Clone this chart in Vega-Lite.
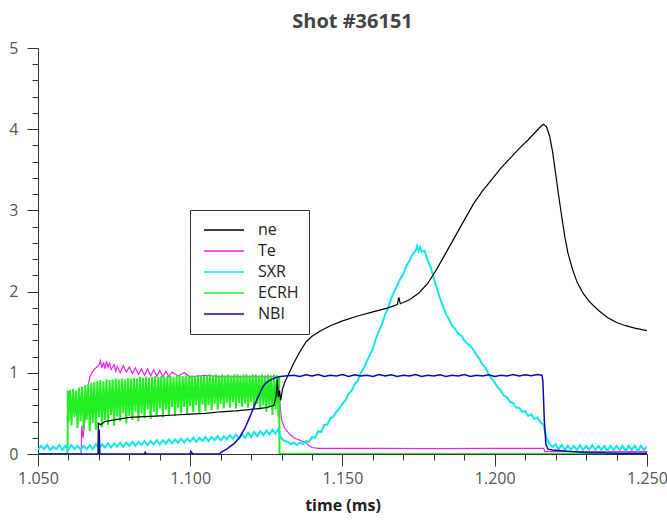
{
"$schema": "https://vega.github.io/schema/vega-lite/v6.json",
"width": 609, "height": 406,
"autosize": {"type": "none"},
"padding": {"left": 38, "top": 48, "right": 20, "bottom": 66},
"background": "white",
"config": {"view": {"stroke": null}, "font": "Open Sans",
 "legend": {"orient": "none", "legendX": 152, "legendY": 162, "direction": "vertical", "symbolType": "stroke", "symbolSize": 1600, "symbolStrokeWidth": 1.5, "clipHeight": 20, "rowPadding": 1, "padding": 10, "symbolOffset": 3, "labelOffset": 13, "labelFont": "Open Sans", "labelFontSize": 16, "labelColor": "#222", "strokeColor": "#333", "fillColor": "white", "labelLimit": 200}},
"title": {"text": "Shot #36151", "fontSize": 20, "fontWeight": "bold", "font": "Open Sans", "color": "#444", "anchor": "middle", "frame": "group", "dx": 10, "offset": -12, "baseline": "bottom"},
"datasets": {
"ne": [
{"t":1.0697,"v":0},{"t":1.0698,"v":0.38},{"t":1.0705,"v":0.36},{"t":1.072,"v":0.40},{"t":1.075,"v":0.42},{"t":1.08,"v":0.45},{"t":1.085,"v":0.46},{"t":1.09,"v":0.47},{"t":1.095,"v":0.48},{"t":1.1,"v":0.49},{"t":1.105,"v":0.5},{"t":1.11,"v":0.52},{"t":1.115,"v":0.53},{"t":1.12,"v":0.55},{"t":1.125,"v":0.57},{"t":1.1275,"v":0.6},{"t":1.1282,"v":0.72},{"t":1.1286,"v":0.92},{"t":1.1289,"v":0.7},{"t":1.1293,"v":0.78},{"t":1.1297,"v":0.66},{"t":1.1303,"v":0.8},{"t":1.131,"v":0.88},{"t":1.1325,"v":1.0},{"t":1.134,"v":1.12},{"t":1.136,"v":1.26},{"t":1.138,"v":1.38},{"t":1.14,"v":1.45},{"t":1.143,"v":1.52},{"t":1.146,"v":1.58},{"t":1.15,"v":1.64},{"t":1.155,"v":1.7},{"t":1.16,"v":1.75},{"t":1.165,"v":1.8},{"t":1.168,"v":1.84},{"t":1.1685,"v":1.93},{"t":1.169,"v":1.85},{"t":1.172,"v":1.9},{"t":1.175,"v":1.98},{"t":1.178,"v":2.1},{"t":1.181,"v":2.28},{"t":1.184,"v":2.48},{"t":1.187,"v":2.68},{"t":1.19,"v":2.88},{"t":1.193,"v":3.08},{"t":1.196,"v":3.24},{"t":1.199,"v":3.38},{"t":1.202,"v":3.52},{"t":1.205,"v":3.64},{"t":1.208,"v":3.76},{"t":1.211,"v":3.87},{"t":1.213,"v":3.95},{"t":1.215,"v":4.03},{"t":1.216,"v":4.06},{"t":1.217,"v":4.03},{"t":1.218,"v":3.92},{"t":1.219,"v":3.72},{"t":1.22,"v":3.45},{"t":1.221,"v":3.18},{"t":1.222,"v":2.92},{"t":1.223,"v":2.68},{"t":1.224,"v":2.48},{"t":1.2255,"v":2.28},{"t":1.227,"v":2.12},{"t":1.229,"v":1.98},{"t":1.231,"v":1.88},{"t":1.234,"v":1.77},{"t":1.237,"v":1.68},{"t":1.24,"v":1.62},{"t":1.243,"v":1.58},{"t":1.246,"v":1.55},{"t":1.25,"v":1.52}
],
"te": [
{"t":1.05,"v":0},{"t":1.0641,"v":0},{"t":1.0642,"v":0.05},{"t":1.0644,"v":0.35},{"t":1.0648,"v":0.2},{"t":1.0655,"v":0.45},{"t":1.066,"v":0.7},{"t":1.0665,"v":0.85},{"t":1.067,"v":0.95},{"t":1.068,"v":1.02},{"t":1.069,"v":1.06},{"t":1.07,"v":1.09},{"t":1.0705,"v":1.15},{"t":1.071,"v":1.06},{"t":1.0715,"v":1.13},{"t":1.072,"v":1.05},{"t":1.0725,"v":1.14},{"t":1.073,"v":1.07},{"t":1.0735,"v":1.12},{"t":1.074,"v":1.04},{"t":1.075,"v":1.1},{"t":1.0755,"v":1.02},{"t":1.076,"v":1.08},{"t":1.077,"v":1.0},{"t":1.078,"v":1.09},{"t":1.079,"v":1.01},{"t":1.08,"v":1.07},{"t":1.081,"v":0.99},{"t":1.082,"v":1.06},{"t":1.083,"v":0.98},{"t":1.084,"v":1.05},{"t":1.085,"v":0.97},{"t":1.086,"v":1.05},{"t":1.087,"v":0.96},{"t":1.088,"v":1.04},{"t":1.089,"v":0.96},{"t":1.09,"v":1.03},{"t":1.091,"v":0.95},{"t":1.092,"v":1.02},{"t":1.093,"v":0.95},{"t":1.094,"v":1.01},{"t":1.096,"v":0.96},{"t":1.098,"v":1.0},{"t":1.1,"v":0.95},{"t":1.105,"v":0.97},{"t":1.11,"v":0.95},{"t":1.12,"v":0.95},{"t":1.128,"v":0.95},{"t":1.129,"v":0.9},{"t":1.1295,"v":0.6},{"t":1.13,"v":0.42},{"t":1.131,"v":0.32},{"t":1.1325,"v":0.25},{"t":1.134,"v":0.2},{"t":1.136,"v":0.17},{"t":1.138,"v":0.14},{"t":1.139,"v":0.1},{"t":1.14,"v":0.08},{"t":1.142,"v":0.07},{"t":1.16,"v":0.07},{"t":1.18,"v":0.065},{"t":1.2,"v":0.07},{"t":1.216,"v":0.07},{"t":1.2165,"v":0.03},{"t":1.25,"v":0.03}
],
"sxr": [
{"t":1.05,"v":0.05},{"t":1.051,"v":0.1},{"t":1.052,"v":0.06},{"t":1.053,"v":0.11},{"t":1.054,"v":0.05},{"t":1.055,"v":0.09},{"t":1.056,"v":0.06},{"t":1.057,"v":0.11},{"t":1.058,"v":0.05},{"t":1.059,"v":0.1},{"t":1.06,"v":0.06},{"t":1.061,"v":0.11},{"t":1.062,"v":0.06},{"t":1.063,"v":0.1},{"t":1.064,"v":0.05},{"t":1.065,"v":0.1},{"t":1.066,"v":0.06},{"t":1.067,"v":0.11},{"t":1.068,"v":0.06},{"t":1.069,"v":0.12},{"t":1.07,"v":0.07},{"t":1.071,"v":0.12},{"t":1.072,"v":0.08},{"t":1.073,"v":0.13},{"t":1.074,"v":0.08},{"t":1.075,"v":0.13},{"t":1.076,"v":0.09},{"t":1.077,"v":0.14},{"t":1.078,"v":0.09},{"t":1.079,"v":0.14},{"t":1.08,"v":0.1},{"t":1.081,"v":0.15},{"t":1.082,"v":0.1},{"t":1.083,"v":0.15},{"t":1.084,"v":0.11},{"t":1.085,"v":0.16},{"t":1.086,"v":0.11},{"t":1.087,"v":0.16},{"t":1.088,"v":0.12},{"t":1.089,"v":0.17},{"t":1.09,"v":0.12},{"t":1.091,"v":0.17},{"t":1.092,"v":0.13},{"t":1.093,"v":0.18},{"t":1.094,"v":0.13},{"t":1.095,"v":0.18},{"t":1.096,"v":0.14},{"t":1.097,"v":0.19},{"t":1.098,"v":0.14},{"t":1.099,"v":0.19},{"t":1.1,"v":0.15},{"t":1.101,"v":0.2},{"t":1.102,"v":0.15},{"t":1.103,"v":0.2},{"t":1.104,"v":0.16},{"t":1.105,"v":0.21},{"t":1.106,"v":0.16},{"t":1.107,"v":0.21},{"t":1.108,"v":0.17},{"t":1.109,"v":0.22},{"t":1.11,"v":0.17},{"t":1.111,"v":0.22},{"t":1.112,"v":0.18},{"t":1.113,"v":0.23},{"t":1.114,"v":0.19},{"t":1.115,"v":0.24},{"t":1.116,"v":0.19},{"t":1.117,"v":0.25},{"t":1.118,"v":0.2},{"t":1.119,"v":0.26},{"t":1.12,"v":0.21},{"t":1.121,"v":0.27},{"t":1.122,"v":0.22},{"t":1.123,"v":0.28},{"t":1.124,"v":0.23},{"t":1.125,"v":0.29},{"t":1.126,"v":0.24},{"t":1.127,"v":0.3},{"t":1.128,"v":0.25},{"t":1.129,"v":0.31},{"t":1.1295,"v":0.22},{"t":1.13,"v":0.19},{"t":1.131,"v":0.16},{"t":1.132,"v":0.15},{"t":1.133,"v":0.12},{"t":1.134,"v":0.14},{"t":1.135,"v":0.11},{"t":1.136,"v":0.14},{"t":1.137,"v":0.12},{"t":1.138,"v":0.16},{"t":1.139,"v":0.15},{"t":1.14,"v":0.21},{"t":1.141,"v":0.2},{"t":1.142,"v":0.28},{"t":1.143,"v":0.27},{"t":1.144,"v":0.36},{"t":1.145,"v":0.36},{"t":1.146,"v":0.44},{"t":1.147,"v":0.46},{"t":1.148,"v":0.52},{"t":1.149,"v":0.56},{"t":1.15,"v":0.62},{"t":1.151,"v":0.66},{"t":1.152,"v":0.74},{"t":1.153,"v":0.78},{"t":1.154,"v":0.86},{"t":1.155,"v":0.9},{"t":1.156,"v":1.0},{"t":1.157,"v":1.06},{"t":1.158,"v":1.14},{"t":1.159,"v":1.22},{"t":1.16,"v":1.3},{"t":1.161,"v":1.42},{"t":1.162,"v":1.52},{"t":1.163,"v":1.6},{"t":1.164,"v":1.72},{"t":1.165,"v":1.8},{"t":1.166,"v":1.92},{"t":1.167,"v":2.0},{"t":1.168,"v":2.08},{"t":1.169,"v":2.16},{"t":1.17,"v":2.22},{"t":1.171,"v":2.32},{"t":1.172,"v":2.38},{"t":1.173,"v":2.46},{"t":1.174,"v":2.5},{"t":1.1745,"v":2.56},{"t":1.175,"v":2.5},{"t":1.1755,"v":2.55},{"t":1.176,"v":2.49},{"t":1.177,"v":2.5},{"t":1.178,"v":2.38},{"t":1.179,"v":2.3},{"t":1.18,"v":2.16},{"t":1.181,"v":2.04},{"t":1.182,"v":1.92},{"t":1.183,"v":1.82},{"t":1.184,"v":1.72},{"t":1.185,"v":1.66},{"t":1.186,"v":1.58},{"t":1.187,"v":1.54},{"t":1.188,"v":1.48},{"t":1.189,"v":1.46},{"t":1.19,"v":1.4},{"t":1.191,"v":1.36},{"t":1.192,"v":1.33},{"t":1.193,"v":1.28},{"t":1.194,"v":1.22},{"t":1.195,"v":1.17},{"t":1.196,"v":1.1},{"t":1.197,"v":1.06},{"t":1.198,"v":0.98},{"t":1.199,"v":0.93},{"t":1.2,"v":0.88},{"t":1.201,"v":0.82},{"t":1.202,"v":0.78},{"t":1.203,"v":0.72},{"t":1.204,"v":0.7},{"t":1.205,"v":0.64},{"t":1.206,"v":0.63},{"t":1.207,"v":0.57},{"t":1.208,"v":0.57},{"t":1.209,"v":0.52},{"t":1.21,"v":0.53},{"t":1.211,"v":0.47},{"t":1.212,"v":0.49},{"t":1.213,"v":0.43},{"t":1.214,"v":0.45},{"t":1.215,"v":0.39},{"t":1.216,"v":0.36},{"t":1.2165,"v":0.28},{"t":1.217,"v":0.2},{"t":1.218,"v":0.12},{"t":1.219,"v":0.09},{"t":1.22,"v":0.12},{"t":1.221,"v":0.06},{"t":1.222,"v":0.11},{"t":1.223,"v":0.05},{"t":1.224,"v":0.1},{"t":1.225,"v":0.05},{"t":1.226,"v":0.1},{"t":1.227,"v":0.05},{"t":1.228,"v":0.11},{"t":1.229,"v":0.05},{"t":1.23,"v":0.1},{"t":1.231,"v":0.05},{"t":1.232,"v":0.11},{"t":1.233,"v":0.05},{"t":1.234,"v":0.1},{"t":1.235,"v":0.05},{"t":1.236,"v":0.1},{"t":1.237,"v":0.04},{"t":1.238,"v":0.1},{"t":1.239,"v":0.05},{"t":1.24,"v":0.1},{"t":1.241,"v":0.05},{"t":1.242,"v":0.1},{"t":1.243,"v":0.04},{"t":1.244,"v":0.1},{"t":1.245,"v":0.05},{"t":1.246,"v":0.1},{"t":1.247,"v":0.04},{"t":1.248,"v":0.1},{"t":1.249,"v":0.05},{"t":1.25,"v":0.09}
],
"ecrh": [
{"t":1.05,"v":0},{"t":1.0597,"v":0},{"t":1.0598,"v":0.78},{"t":1.06,"v":0.4},{"t":1.0605,"v":0.79},{"t":1.061,"v":0.35},{"t":1.0615,"v":0.8},{"t":1.062,"v":0.45},{"t":1.0625,"v":0.78},{"t":1.063,"v":0.32},{"t":1.0635,"v":0.82},{"t":1.064,"v":0.4},{"t":1.0645,"v":0.83},{"t":1.065,"v":0.3},{"t":1.0655,"v":0.85},{"t":1.066,"v":0.42},{"t":1.0665,"v":0.86},{"t":1.067,"v":0.28},{"t":1.0675,"v":0.88},{"t":1.068,"v":0.38},{"t":1.0685,"v":0.89},{"t":1.069,"v":0.3},{"t":1.0695,"v":0.9},{"t":1.07,"v":0.45},{"t":1.0705,"v":0.91},{"t":1.071,"v":0.33},{"t":1.0715,"v":0.9},{"t":1.072,"v":0.42},{"t":1.0725,"v":0.92},{"t":1.073,"v":0.36},{"t":1.0735,"v":0.91},{"t":1.074,"v":0.48},{"t":1.0745,"v":0.92},{"t":1.075,"v":0.35},{"t":1.0755,"v":0.93},{"t":1.076,"v":0.46},{"t":1.0765,"v":0.92},{"t":1.077,"v":0.4},{"t":1.0775,"v":0.93},{"t":1.078,"v":0.5},{"t":1.0785,"v":0.92},{"t":1.079,"v":0.38},{"t":1.0795,"v":0.94},{"t":1.08,"v":0.47},{"t":1.0805,"v":0.93},{"t":1.081,"v":0.42},{"t":1.0815,"v":0.94},{"t":1.082,"v":0.52},{"t":1.0825,"v":0.93},{"t":1.083,"v":0.4},{"t":1.0835,"v":0.95},{"t":1.084,"v":0.5},{"t":1.0845,"v":0.94},{"t":1.085,"v":0.44},{"t":1.0855,"v":0.95},{"t":1.086,"v":0.55},{"t":1.0865,"v":0.94},{"t":1.087,"v":0.43},{"t":1.0875,"v":0.95},{"t":1.088,"v":0.52},{"t":1.0885,"v":0.96},{"t":1.089,"v":0.46},{"t":1.0895,"v":0.95},{"t":1.09,"v":0.56},{"t":1.0905,"v":0.96},{"t":1.091,"v":0.45},{"t":1.0915,"v":0.95},{"t":1.092,"v":0.55},{"t":1.0925,"v":0.96},{"t":1.093,"v":0.48},{"t":1.0935,"v":0.96},{"t":1.094,"v":0.58},{"t":1.0945,"v":0.95},{"t":1.095,"v":0.47},{"t":1.0955,"v":0.96},{"t":1.096,"v":0.57},{"t":1.0965,"v":0.97},{"t":1.097,"v":0.5},{"t":1.0975,"v":0.96},{"t":1.098,"v":0.58},{"t":1.0985,"v":0.97},{"t":1.099,"v":0.49},{"t":1.0995,"v":0.96},{"t":1.1,"v":0.59},{"t":1.1005,"v":0.97},{"t":1.101,"v":0.52},{"t":1.1015,"v":0.96},{"t":1.102,"v":0.6},{"t":1.1025,"v":0.97},{"t":1.103,"v":0.5},{"t":1.1035,"v":0.97},{"t":1.104,"v":0.61},{"t":1.1045,"v":0.96},{"t":1.105,"v":0.53},{"t":1.1055,"v":0.97},{"t":1.106,"v":0.6},{"t":1.1065,"v":0.98},{"t":1.107,"v":0.54},{"t":1.1075,"v":0.97},{"t":1.108,"v":0.62},{"t":1.1085,"v":0.98},{"t":1.109,"v":0.55},{"t":1.1095,"v":0.97},{"t":1.11,"v":0.62},{"t":1.1105,"v":0.98},{"t":1.111,"v":0.56},{"t":1.1115,"v":0.97},{"t":1.112,"v":0.63},{"t":1.1125,"v":0.98},{"t":1.113,"v":0.57},{"t":1.1135,"v":0.97},{"t":1.114,"v":0.64},{"t":1.1145,"v":0.98},{"t":1.115,"v":0.56},{"t":1.1155,"v":0.98},{"t":1.116,"v":0.63},{"t":1.1165,"v":0.97},{"t":1.117,"v":0.58},{"t":1.1175,"v":0.98},{"t":1.118,"v":0.62},{"t":1.1185,"v":0.98},{"t":1.119,"v":0.57},{"t":1.1195,"v":0.97},{"t":1.12,"v":0.64},{"t":1.1205,"v":0.98},{"t":1.121,"v":0.56},{"t":1.1215,"v":0.98},{"t":1.122,"v":0.62},{"t":1.1225,"v":0.97},{"t":1.123,"v":0.55},{"t":1.1235,"v":0.98},{"t":1.124,"v":0.6},{"t":1.1245,"v":0.97},{"t":1.125,"v":0.52},{"t":1.1255,"v":0.98},{"t":1.126,"v":0.58},{"t":1.1265,"v":0.97},{"t":1.127,"v":0.48},{"t":1.1275,"v":0.98},{"t":1.128,"v":0.55},{"t":1.1285,"v":0.97},{"t":1.129,"v":0.46},{"t":1.1292,"v":0.95},{"t":1.1293,"v":0},{"t":1.25,"v":0}
],
"nbi": [
{"t":1.05,"v":0},{"t":1.07,"v":0},{"t":1.0701,"v":0.3},{"t":1.0703,"v":0},{"t":1.085,"v":0},{"t":1.0852,"v":0.02},{"t":1.0855,"v":0},{"t":1.1,"v":0},{"t":1.1002,"v":0.03},{"t":1.1006,"v":0.01},{"t":1.101,"v":0},{"t":1.1095,"v":0},{"t":1.1105,"v":0.03},{"t":1.112,"v":0.06},{"t":1.113,"v":0.09},{"t":1.1145,"v":0.13},{"t":1.1163,"v":0.21},{"t":1.118,"v":0.32},{"t":1.1196,"v":0.46},{"t":1.1207,"v":0.56},{"t":1.1218,"v":0.66},{"t":1.123,"v":0.76},{"t":1.1239,"v":0.83},{"t":1.125,"v":0.88},{"t":1.1262,"v":0.91},{"t":1.128,"v":0.94},{"t":1.1295,"v":0.955},{"t":1.132,"v":0.965},{"t":1.134,"v":0.97},{"t":1.136,"v":0.955},{"t":1.138,"v":0.975},{"t":1.14,"v":0.96},{"t":1.142,"v":0.98},{"t":1.144,"v":0.955},{"t":1.146,"v":0.97},{"t":1.148,"v":0.96},{"t":1.15,"v":0.98},{"t":1.152,"v":0.955},{"t":1.154,"v":0.975},{"t":1.156,"v":0.96},{"t":1.158,"v":0.97},{"t":1.16,"v":0.955},{"t":1.162,"v":0.98},{"t":1.164,"v":0.96},{"t":1.166,"v":0.975},{"t":1.168,"v":0.955},{"t":1.17,"v":0.97},{"t":1.172,"v":0.96},{"t":1.174,"v":0.98},{"t":1.176,"v":0.955},{"t":1.178,"v":0.97},{"t":1.18,"v":0.96},{"t":1.182,"v":0.975},{"t":1.184,"v":0.955},{"t":1.186,"v":0.97},{"t":1.188,"v":0.96},{"t":1.19,"v":0.98},{"t":1.192,"v":0.955},{"t":1.194,"v":0.97},{"t":1.196,"v":0.96},{"t":1.198,"v":0.975},{"t":1.2,"v":0.955},{"t":1.202,"v":0.97},{"t":1.204,"v":0.96},{"t":1.206,"v":0.98},{"t":1.208,"v":0.96},{"t":1.21,"v":0.975},{"t":1.212,"v":0.965},{"t":1.214,"v":0.98},{"t":1.2155,"v":0.97},{"t":1.2158,"v":0.9},{"t":1.2163,"v":0.4},{"t":1.2168,"v":0.12},{"t":1.2175,"v":0.06},{"t":1.219,"v":0.05},{"t":1.222,"v":0.04},{"t":1.225,"v":0.03},{"t":1.23,"v":0.02},{"t":1.235,"v":0.015},{"t":1.24,"v":0.01},{"t":1.25,"v":0.01}
]
},
"encoding": {
 "x": {"field": "t", "type": "quantitative", "scale": {"domain": [1.05, 1.25], "nice": false, "zero": false},
  "axis": {"title": "time (ms)", "grid": false,
   "values": [1.05,1.06,1.07,1.08,1.09,1.1,1.11,1.12,1.13,1.14,1.15,1.16,1.17,1.18,1.19,1.2,1.21,1.22,1.23,1.24,1.25],
   "labelExpr": "indexof([1.05,1.1,1.15,1.2,1.25], datum.value) >= 0 ? format(datum.value, '.3f') : ''",
   "tickSize": {"condition": {"test": "indexof([1.05,1.1,1.15,1.2,1.25], datum.value) >= 0", "value": 12}, "value": 6},
   "labelOverlap": false, "labelFlush": false, "labelFont": "Open Sans", "labelFontSize": 16, "labelColor": "#555", "labelPadding": 4,
   "tickColor": "#333", "domainColor": "#333",
   "titleFont": "Open Sans", "titleFontSize": 16, "titleFontWeight": "bold", "titleColor": "#222", "titlePadding": 11}},
 "y": {"field": "v", "type": "quantitative", "scale": {"domain": [0, 5], "nice": false},
  "axis": {"title": null, "grid": false,
   "values": [0,0.2,0.4,0.6,0.8,1,1.2,1.4,1.6,1.8,2,2.2,2.4,2.6,2.8,3,3.2,3.4,3.6,3.8,4,4.2,4.4,4.6,4.8,5],
   "labelExpr": "datum.value % 1 === 0 ? format(datum.value, 'd') : ''",
   "tickSize": {"condition": {"test": "datum.value % 1 === 0", "value": 11}, "value": 6},
   "labelOverlap": false, "labelFlush": false, "labelFont": "Open Sans", "labelFontSize": 16, "labelColor": "#555", "labelPadding": 9,
   "tickColor": "#333", "domainColor": "#333"}}
},
"layer": [
 {"data": {"name": "te"}, "mark": {"type": "line", "strokeWidth": 1.2, "clip": true},
  "encoding": {"color": {"datum": "Te", "type": "nominal", "scale": {"domain": ["ne","Te","SXR","ECRH","NBI"], "range": ["#000000","#ee22ee","#10e6e6","#22ee22","#0a0ab4"]}, "legend": {"title": null}}}},
 {"data": {"name": "ecrh"}, "mark": {"type": "line", "strokeWidth": 2, "clip": true},
  "encoding": {"color": {"datum": "ECRH", "type": "nominal", "scale": {"domain": ["ne","Te","SXR","ECRH","NBI"], "range": ["#000000","#ee22ee","#10e6e6","#22ee22","#0a0ab4"]}, "legend": {"title": null}}}},
 {"data": {"name": "sxr"}, "mark": {"type": "line", "strokeWidth": 2, "clip": true},
  "encoding": {"color": {"datum": "SXR", "type": "nominal", "scale": {"domain": ["ne","Te","SXR","ECRH","NBI"], "range": ["#000000","#ee22ee","#10e6e6","#22ee22","#0a0ab4"]}, "legend": {"title": null}}}},
 {"data": {"name": "ne"}, "mark": {"type": "line", "strokeWidth": 1.2, "clip": true},
  "encoding": {"color": {"datum": "ne", "type": "nominal", "scale": {"domain": ["ne","Te","SXR","ECRH","NBI"], "range": ["#000000","#ee22ee","#10e6e6","#22ee22","#0a0ab4"]}, "legend": {"title": null}}}},
 {"data": {"name": "nbi"}, "mark": {"type": "line", "strokeWidth": 1.5, "clip": true},
  "encoding": {"color": {"datum": "NBI", "type": "nominal", "scale": {"domain": ["ne","Te","SXR","ECRH","NBI"], "range": ["#000000","#ee22ee","#10e6e6","#22ee22","#0a0ab4"]}, "legend": {"title": null}}}}
]
}
